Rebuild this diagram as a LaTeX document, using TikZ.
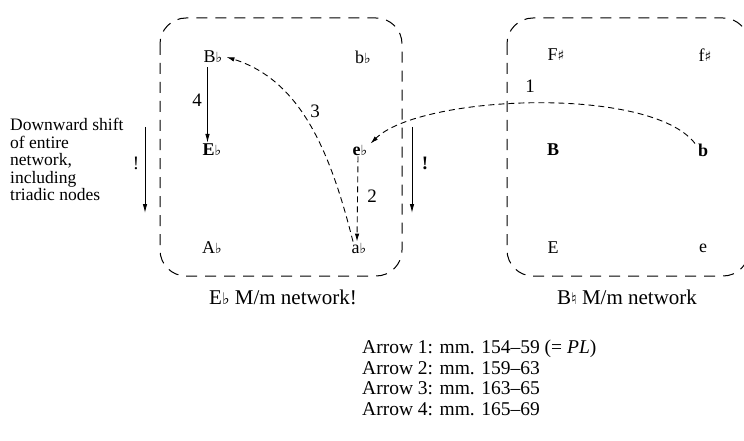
\documentclass[tikz,border=0pt]{standalone}
\usepackage{fontspec}
\setmainfont{Liberation Serif}
\newfontfamily\symf{DejaVu Sans}
\usetikzlibrary{arrows.meta}
\newcommand{\acc}[1]{{\symf\fontsize{14}{14}\selectfont\mdseries #1}}
\newcommand{\fl}{\acc{♭}}
\newcommand{\shp}{\acc{♯}}
\newcommand{\nat}{{\symf\fontsize{16}{16}\selectfont ♮}}
\newcommand{\capfl}{{\symf\fontsize{16}{16}\selectfont ♭}}
\tikzset{
  netbox/.style={draw=black, line width=1pt, dash pattern=on 11pt off 8pt, rounded corners=26pt},
  pitch/.style={font=\fontsize{18}{18}\selectfont, inner sep=1pt},
  bpitch/.style={font=\fontsize{18}{18}\selectfont\bfseries, inner sep=1pt},
  lbl/.style={font=\fontsize{19}{19}\selectfont, inner sep=1pt},
  darr/.style={draw=black, line width=0.9pt, dash pattern=on 6pt off 4pt, -{Latex[length=8pt,width=4.5pt]}},
  sarr/.style={draw=black, line width=0.9pt, -{Latex[length=9pt,width=4.5pt]}},
  captext/.style={font=\fontsize{21}{21}\selectfont, inner sep=1pt}
}
\begin{document}
\begin{tikzpicture}[x=1pt,y=-1pt]
\useasboundingbox (0,0) rectangle (744,441);
\clip (0,0) rectangle (744,441);
\fill[white] (0,0) rectangle (744,441);
% boxes
\draw[netbox] (160,18) rectangle (402,276);
\draw[netbox] (507,18) rectangle (749,276);
% left network
\node[pitch] (Bb) at (213,57) {B\fl};
\node[pitch] (bb) at (363,57) {b\fl};
\node[bpitch] (Eb) at (212,150) {E\fl};
\node[bpitch] (eb) at (360,150) {e\fl};
\node[pitch] (Ab) at (212,248) {A\fl};
\node[pitch] (ab) at (359,248) {a\fl};
% right network
\node[pitch] (Fs) at (556,55) {F\shp};
\node[pitch] (fs) at (705,55) {f\shp};
\node[bpitch] (B) at (553,150) {B};
\node[bpitch] (b) at (703,150) {b};
\node[pitch] (E) at (553,248) {E};
\node[pitch] (e) at (703,248) {e};
% arrow 4
\draw[sarr] (Bb.south west) ++(5,3) coordinate (a4s) -- (a4s |- Eb.north) coordinate (a4e);
\node[lbl] (l4) at (197,100) {4};
% arrow 2
\draw[darr] ([xshift=-2pt]eb.south) -- ([xshift=-2pt]ab.north);
\node[lbl] (l2) at (372,196) {2};
% arrow 3
\draw[darr] ([xshift=-6pt]ab.north) .. controls (330,150) and (300,80) .. ([xshift=3pt]Bb.east);
\node[lbl] (l3) at (315,111) {3};
% arrow 1
\draw[darr] ([xshift=-8pt,yshift=-1pt]b.north) .. controls (650,85) and (420,95) .. ([xshift=2pt]eb.north east);
\node[lbl] (l1) at (530,86) {1};
% shift arrows
\coordinate (s1) at (145,127);
\coordinate (s2) at (145,213);
\draw[sarr] (s1) -- (s2);
\node[lbl] (x1) at (136,163) {!};
\coordinate (s3) at (412,127);
\coordinate (s4) at (412,213);
\draw[sarr] (s3) -- (s4);
\node[lbl, font=\fontsize{19}{19}\selectfont\bfseries] (x2) at (425,163) {!};
% description
\node[anchor=north west, align=left, inner sep=0pt, font=\fontsize{17.5}{17.5}\selectfont] (desc) at (10,118)
  {Downward shift\\of entire\\network,\\including\\triadic nodes};
% captions
\node[captext] (c1) at (283,297) {E\capfl\ M/m network!};
\node[captext] (c2) at (627,297) {B\nat\ M/m network};
% list
\node[anchor=north west, align=left, inner sep=0pt, font=\fontsize{19.5}{20.5}\selectfont] (list) at (362,340)
  {Arrow 1: mm. 154--59 (= \textit{PL})\\Arrow 2: mm. 159--63\\Arrow 3: mm. 163--65\\Arrow 4: mm. 165--69};
\end{tikzpicture}
\end{document}
